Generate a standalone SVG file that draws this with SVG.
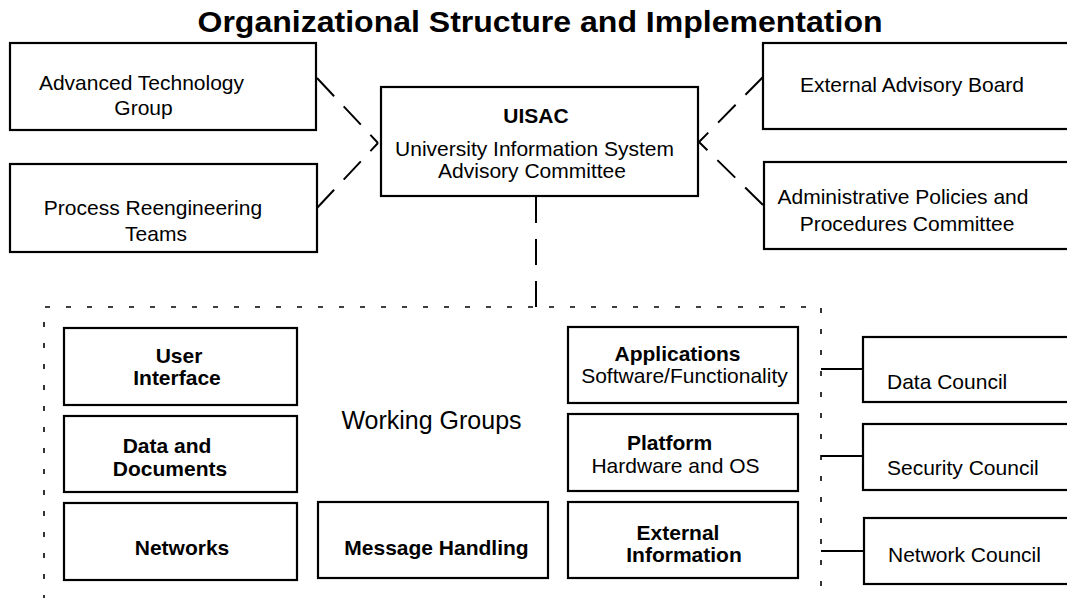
<svg xmlns="http://www.w3.org/2000/svg" width="1067" height="598" viewBox="0 0 1067 598">
<style>
.box{fill:#fff;stroke:#000;stroke-width:2.2}
text{font-family:"Liberation Sans",Arial,Helvetica,sans-serif;font-size:21px;fill:#000;text-anchor:middle}
.b{font-weight:bold}
.l{text-anchor:start}
.dash{fill:none;stroke:#000;stroke-width:2;stroke-dasharray:25 14}
.vdash{fill:none;stroke:#000;stroke-width:2;stroke-dasharray:26 16}
.dot{fill:none;stroke:#000;stroke-width:1.6;stroke-dasharray:5 16}
.solid{fill:none;stroke:#000;stroke-width:2}
</style>
<rect width="1067" height="598" fill="#fff"/>
<text id="title" x="540" y="32" class="b" style="font-size:29px" textLength="685" lengthAdjust="spacingAndGlyphs">Organizational Structure and Implementation</text>

<g id="connectors">
<path class="dash" d="M317,78 L378,143"/>
<path class="dash" d="M317,208 L378,143"/>
<path class="dash" d="M763,77 L699,142"/>
<path class="dash" d="M763,205 L699,142"/>
<path class="vdash" d="M536,197 V306 H531"/>
<path class="dot" d="M44,600 V307 H821 V600"/>
<path class="solid" d="M821,369 H863"/>
<path class="solid" d="M821,456 H863"/>
<path class="solid" d="M821,551 H864"/>
</g>

<g id="atg"><rect class="box" x="10" y="43" width="306" height="87"/>
<text x="141.5" y="90">Advanced Technology</text><text x="143.5" y="115">Group</text></g>
<g id="prt"><rect class="box" x="10" y="164" width="307" height="88"/>
<text x="153" y="215">Process Reengineering</text><text x="156" y="241">Teams</text></g>
<g id="uisac"><rect class="box" x="381" y="87" width="317" height="109"/>
<text x="536" y="123" class="b">UISAC</text>
<text x="534.5" y="156">University Information System</text>
<text x="532" y="178">Advisory Committee</text></g>
<g id="eab"><rect class="box" x="763" y="43" width="320" height="86"/>
<text x="912" y="92">External Advisory Board</text></g>
<g id="app"><rect class="box" x="764" y="162" width="320" height="87"/>
<text x="903" y="204">Administrative Policies and</text><text x="907" y="231">Procedures Committee</text></g>

<g id="working-groups"><text x="431.5" y="429" style="font-size:25px">Working Groups</text></g>
<g id="ui"><rect class="box" x="64" y="328" width="233" height="77"/>
<text x="179" y="363" class="b">User</text><text x="177" y="385" class="b">Interface</text></g>
<g id="dd"><rect class="box" x="64" y="416" width="233" height="76"/>
<text x="167" y="453" class="b">Data and</text><text x="170" y="476" class="b">Documents</text></g>
<g id="net"><rect class="box" x="64" y="503" width="233" height="77"/>
<text x="182" y="555" class="b">Networks</text></g>
<g id="mh"><rect class="box" x="318" y="502" width="230" height="76"/>
<text x="436.5" y="555" class="b">Message Handling</text></g>
<g id="apps"><rect class="box" x="568" y="327" width="230" height="76"/>
<text x="677.5" y="361" class="b">Applications</text><text x="684.5" y="383">Software/Functionality</text></g>
<g id="plat"><rect class="box" x="568" y="414" width="230" height="77"/>
<text x="669.5" y="450" class="b">Platform</text><text x="675.5" y="472.5">Hardware and OS</text></g>
<g id="ext"><rect class="box" x="568" y="502" width="230" height="76"/>
<text x="678" y="540" class="b">External</text><text x="684" y="562" class="b">Information</text></g>

<g id="dc"><rect class="box" x="863" y="337" width="220" height="65"/>
<text x="887" y="389" class="l">Data Council</text></g>
<g id="sc"><rect class="box" x="863" y="424" width="220" height="66"/>
<text x="887" y="475" class="l">Security Council</text></g>
<g id="nc"><rect class="box" x="864" y="518" width="220" height="66"/>
<text x="888" y="562" class="l">Network Council</text></g>
</svg>
